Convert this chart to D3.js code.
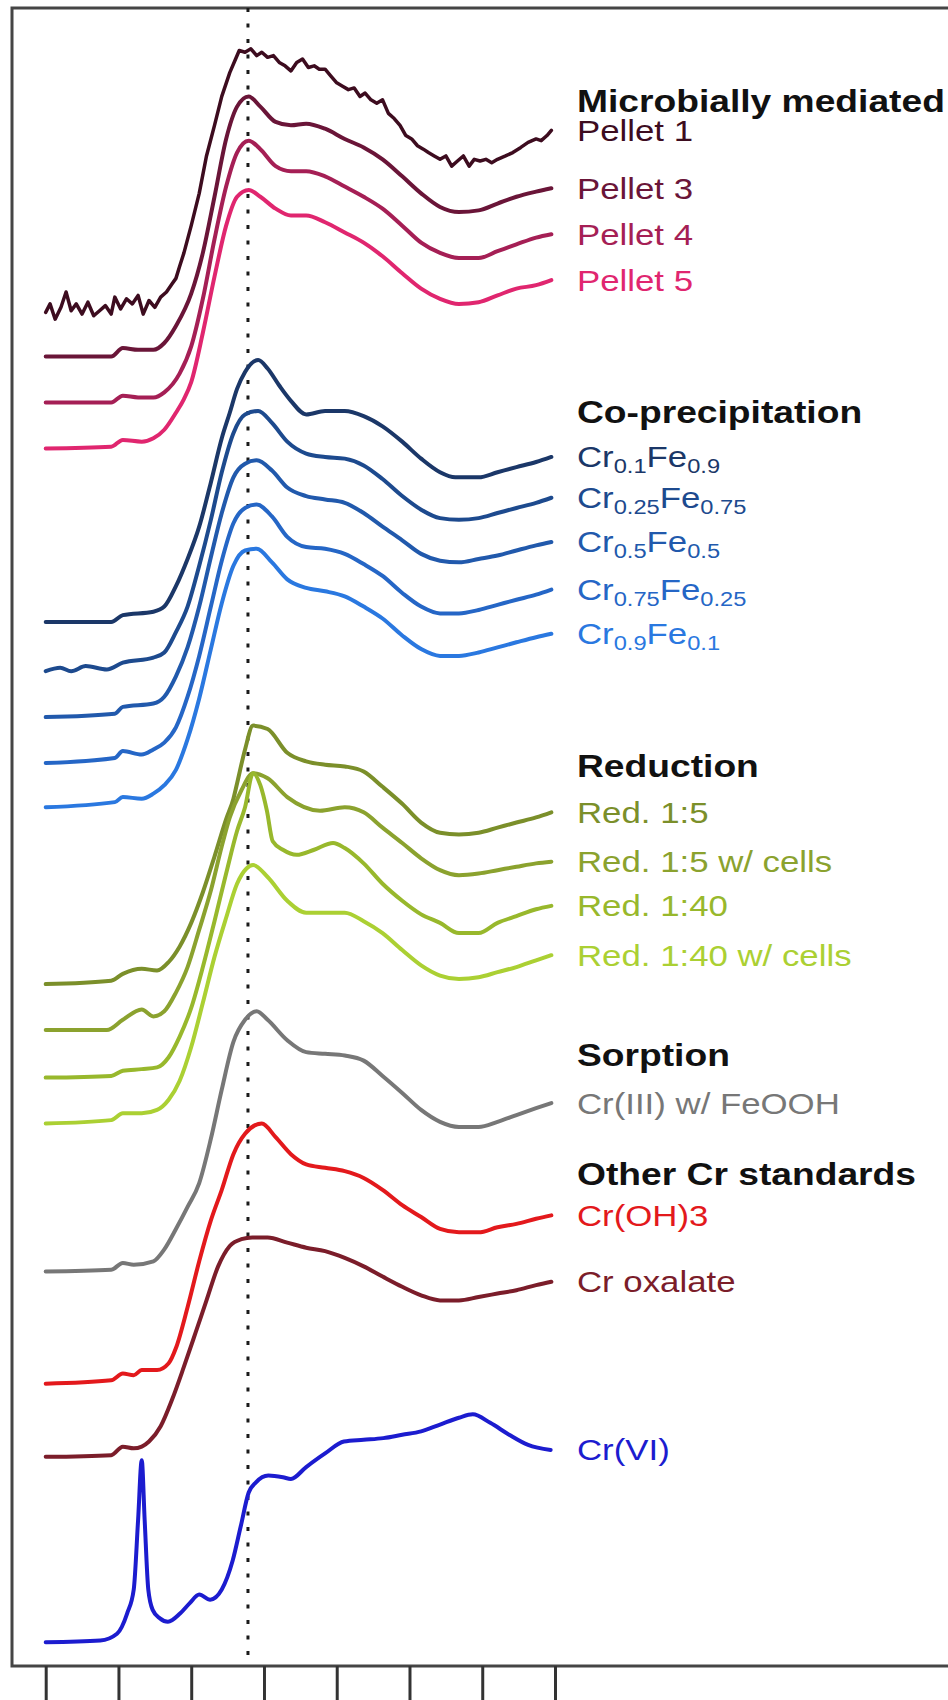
<!DOCTYPE html>
<html>
<head>
<meta charset="utf-8">
<script src="https://cdn.jsdelivr.net/npm/d3@7"></script>
<style>
  body { margin: 0; background: #fff; }
  svg { display: block; font-family: "Liberation Sans", Arial, sans-serif; }
</style>
</head>
<body>
<div id="chart"></div>
<script>
// Cr K-edge XANES, [energy eV, normalised absorbance]
const pellet1 = [[5980,0.00],[5980.6,0.05],[5981.3,-0.04],[5982.1,0.03],[5982.8,0.12],[5983.5,0.01],[5984.2,0.05],[5985,-0.01],[5985.8,0.06],[5986.6,-0.02],[5987.4,0.01],[5988.2,0.04],[5989,-0.01],[5989.5,0.09],[5990.3,0.02],[5991.1,0.08],[5991.9,0.05],[5992.7,0.10],[5993.4,-0.01],[5994.2,0.07],[5995,0.03],[5995.8,0.09],[5996.6,0.12],[5997.4,0.17],[5997.9,0.20],[5998.4,0.27],[5999,0.35],[6000,0.51],[6001.1,0.70],[6002.1,0.92],[6003.2,1.10],[6004.2,1.27],[6005.3,1.41],[6006.1,1.49],[6006.6,1.54],[6007.4,1.53],[6008.2,1.55],[6009,1.51],[6009.7,1.53],[6010.5,1.50],[6011.3,1.51],[6012.1,1.47],[6012.9,1.45],[6013.7,1.42],[6014.5,1.47],[6015.3,1.49],[6016.1,1.44],[6016.9,1.45],[6017.6,1.43],[6018.4,1.43],[6019.2,1.39],[6020,1.35],[6020.8,1.33],[6021.6,1.31],[6022.4,1.32],[6023.2,1.27],[6023.9,1.29],[6024.7,1.25],[6025.5,1.23],[6026.3,1.25],[6027.1,1.17],[6027.9,1.14],[6028.7,1.10],[6029.5,1.04],[6030.3,1.02],[6031.1,0.98],[6031.9,0.96],[6032.6,0.94],[6033.4,0.92],[6034.2,0.90],[6035,0.92],[6035.8,0.86],[6036.6,0.89],[6037.4,0.92],[6038.2,0.86],[6038.9,0.90],[6039.7,0.89],[6040.5,0.90],[6041.3,0.88],[6042.1,0.90],[6043.2,0.92],[6044.2,0.94],[6045.3,0.97],[6046.3,1.00],[6047.4,1.02],[6048.1,1.01],[6048.9,1.04],[6049.5,1.07]];
const pellet3 = [[5980,0],[5989,0],[5990.6,0.05],[5992.7,0.04],[5994.8,0.04],[5996.3,0.08],[5997.9,0.18],[6000,0.37],[6001.6,0.61],[6003.2,0.94],[6004.8,1.28],[6006.3,1.47],[6007.9,1.53],[6009.5,1.47],[6011.6,1.38],[6013.7,1.36],[6015.8,1.37],[6018.4,1.34],[6021.1,1.28],[6023.7,1.23],[6026.3,1.16],[6029,1.06],[6031.6,0.96],[6034.2,0.88],[6036.8,0.85],[6039.5,0.86],[6042.1,0.90],[6044.7,0.94],[6047.4,0.97],[6049.5,0.99]];
const pellet4 = [[5980,0],[5989,0],[5990.6,0.04],[5992.7,0.03],[5994.8,0.03],[5996.3,0.06],[5998.4,0.17],[6000,0.33],[6001.6,0.61],[6003.2,0.96],[6004.8,1.27],[6006.3,1.47],[6007.9,1.54],[6009.5,1.49],[6011.6,1.39],[6013.7,1.36],[6015.8,1.36],[6018.4,1.33],[6021.1,1.27],[6023.7,1.21],[6026.3,1.14],[6029,1.04],[6031.6,0.94],[6034.2,0.88],[6036.8,0.85],[6039.5,0.85],[6042.1,0.89],[6044.7,0.93],[6047.4,0.97],[6049.5,0.99]];
const pellet5 = [[5980,0],[5989,0.01],[5990.6,0.05],[5993.2,0.04],[5994.8,0.06],[5996.3,0.11],[5997.9,0.21],[5999,0.29],[6000,0.39],[6001.6,0.68],[6003.2,1.01],[6004.8,1.31],[6006.3,1.48],[6007.9,1.52],[6009.5,1.48],[6011.6,1.41],[6013.7,1.37],[6015.8,1.37],[6018.4,1.33],[6021.1,1.27],[6023.7,1.21],[6026.3,1.13],[6029,1.03],[6031.6,0.94],[6034.2,0.88],[6036.8,0.85],[6039.5,0.86],[6042.1,0.90],[6044.7,0.94],[6047.4,0.96],[6049.5,0.99]];

const cr01 = [[5980,0],[5989,0],[5990.6,0.04],[5994.8,0.06],[5996.3,0.09],[5997.9,0.21],[5999.5,0.37],[6001.1,0.56],[6002.7,0.82],[6004.2,1.08],[6005.3,1.23],[6006.3,1.37],[6007.4,1.47],[6009.2,1.54],[6010.5,1.49],[6012.1,1.39],[6013.7,1.30],[6015.8,1.22],[6018.4,1.24],[6021.1,1.24],[6023.7,1.21],[6026.3,1.15],[6029,1.06],[6031.6,0.96],[6034.2,0.88],[6036.3,0.85],[6039.5,0.85],[6042.1,0.88],[6044.7,0.91],[6047.4,0.94],[6049.5,0.97]];
const cr025 = [[5980,0],[5982,0.02],[5983.5,0.00],[5985.5,0.03],[5988.4,0.01],[5990.6,0.05],[5994.8,0.08],[5996.3,0.11],[5997.9,0.23],[5999.5,0.38],[6001.1,0.62],[6002.7,0.89],[6004.2,1.17],[6005.8,1.40],[6007.4,1.51],[6009.2,1.53],[6011.1,1.46],[6013.2,1.35],[6015.8,1.28],[6018.4,1.26],[6021.1,1.25],[6023.7,1.21],[6026.3,1.13],[6029,1.03],[6031.6,0.95],[6034.2,0.90],[6036.8,0.89],[6039.5,0.90],[6042.1,0.93],[6044.7,0.96],[6047.4,0.99],[6049.5,1.02]];
const cr05 = [[5980,0],[5989.5,0.02],[5990.6,0.06],[5994.8,0.08],[5996.3,0.12],[5997.9,0.24],[5999.5,0.41],[6001.1,0.65],[6002.7,0.94],[6004.2,1.20],[6005.8,1.41],[6007.4,1.49],[6009,1.51],[6011.1,1.45],[6013.2,1.35],[6015.8,1.30],[6018.4,1.28],[6021.1,1.26],[6023.7,1.20],[6026.3,1.12],[6029,1.04],[6031.6,0.96],[6034.2,0.92],[6036.8,0.91],[6039.5,0.93],[6042.1,0.95],[6044.7,0.98],[6047.4,1.01],[6049.5,1.03]];
const cr075 = [[5980,0],[5989.5,0.03],[5990.6,0.07],[5993.2,0.05],[5994.8,0.08],[5996.3,0.12],[5997.9,0.21],[5999.5,0.39],[6001.1,0.63],[6002.7,0.92],[6004.2,1.19],[6005.8,1.41],[6007.4,1.50],[6009,1.52],[6011.1,1.45],[6013.2,1.33],[6015.8,1.27],[6018.4,1.26],[6021.1,1.23],[6023.7,1.17],[6026.3,1.10],[6029,1.00],[6031.6,0.92],[6034.2,0.88],[6036.8,0.88],[6039.5,0.90],[6042.1,0.93],[6044.7,0.96],[6047.4,0.99],[6049.5,1.02]];
const cr09 = [[5980,0],[5989.5,0.03],[5990.6,0.06],[5993.2,0.05],[5994.8,0.08],[5996.3,0.13],[5997.9,0.22],[5999.5,0.40],[6001.1,0.64],[6002.7,0.93],[6004.2,1.20],[6005.8,1.42],[6007.4,1.51],[6009,1.52],[6011.1,1.44],[6013.2,1.34],[6015.8,1.29],[6018.4,1.27],[6021.1,1.24],[6023.7,1.18],[6026.3,1.11],[6029,1.01],[6031.6,0.93],[6034.2,0.89],[6036.8,0.89],[6039.5,0.91],[6042.1,0.94],[6044.7,0.97],[6047.4,1.00],[6049.5,1.02]];

const red15 = [[5980,0],[5989,0.02],[5990.6,0.06],[5993.2,0.09],[5995.3,0.08],[5996.9,0.13],[5998.4,0.22],[6000,0.36],[6001.6,0.54],[6003.2,0.75],[6004.8,0.97],[6005.8,1.09],[6006.3,1.18],[6007.4,1.38],[6008.5,1.52],[6010.5,1.50],[6013.2,1.36],[6015.8,1.31],[6018.4,1.29],[6021.1,1.28],[6023.7,1.25],[6026.3,1.16],[6029,1.06],[6031.6,0.95],[6034.2,0.89],[6036.8,0.88],[6039.5,0.89],[6042.1,0.92],[6044.7,0.95],[6047.4,0.98],[6049.5,1.01]];
const red15cells = [[5980,0],[5988.4,0],[5990.6,0.06],[5993.2,0.12],[5994.8,0.08],[5996.3,0.11],[5997.9,0.22],[5999.5,0.37],[6001.1,0.59],[6002.7,0.82],[6004.2,1.08],[6005.3,1.25],[6006.9,1.41],[6008.5,1.51],[6010.5,1.48],[6013.2,1.37],[6017.7,1.29],[6021.1,1.31],[6023.7,1.28],[6026.3,1.19],[6029,1.10],[6031.6,1.01],[6034.2,0.94],[6036.8,0.91],[6039.5,0.92],[6042.1,0.94],[6044.7,0.96],[6047.4,0.98],[6049.5,0.99]];
const red140 = [[5980,0],[5989,0.01],[5990.6,0.04],[5993.2,0.05],[5995.3,0.06],[5996.9,0.12],[5998.4,0.24],[6000,0.41],[6001.6,0.65],[6003.2,0.92],[6004.8,1.20],[6006.3,1.45],[6007.4,1.59],[6008.5,1.79],[6009.5,1.72],[6010.4,1.57],[6011.2,1.39],[6012.6,1.34],[6014.5,1.31],[6016.9,1.34],[6019.5,1.38],[6021.1,1.35],[6023.7,1.26],[6026.3,1.14],[6029,1.04],[6031.6,0.96],[6034.2,0.91],[6036.8,0.85],[6039.5,0.85],[6042.1,0.91],[6044.7,0.95],[6047.4,0.99],[6049.5,1.01]];
const red140cells = [[5980,0],[5989,0.02],[5990.6,0.06],[5993.2,0.06],[5995.3,0.08],[5996.9,0.14],[5998.4,0.25],[6000,0.45],[6001.6,0.71],[6003.2,0.98],[6004.8,1.21],[6006.3,1.41],[6007.6,1.50],[6008.5,1.52],[6010.5,1.45],[6013.2,1.31],[6015.8,1.24],[6018.4,1.24],[6021.1,1.24],[6023.7,1.19],[6026.3,1.12],[6029,1.02],[6031.6,0.93],[6034.2,0.87],[6036.8,0.85],[6039.5,0.86],[6042.1,0.89],[6044.7,0.92],[6047.4,0.96],[6049.5,0.99]];

const sorbed = [[5980,0],[5989,0.01],[5990.6,0.05],[5992.1,0.04],[5994.8,0.06],[5996.3,0.13],[5997.9,0.25],[5999.5,0.38],[6001.1,0.52],[6002.7,0.78],[6004.2,1.07],[6005.8,1.35],[6007.4,1.48],[6009,1.53],[6010.5,1.48],[6013.2,1.36],[6015.8,1.29],[6018.4,1.28],[6021.1,1.27],[6023.7,1.24],[6026.3,1.15],[6029,1.05],[6031.6,0.95],[6034.2,0.88],[6036.8,0.85],[6039.5,0.85],[6042.1,0.88],[6044.7,0.92],[6047.4,0.96],[6049.5,0.99]];
const crOH3 = [[5980,0],[5989,0.02],[5990.6,0.06],[5992.1,0.05],[5993.2,0.08],[5995.3,0.08],[5996.9,0.12],[5997.9,0.21],[5999.5,0.45],[6001.1,0.72],[6002.7,0.96],[6004.2,1.14],[6005.8,1.35],[6007.4,1.47],[6009.7,1.53],[6011.6,1.45],[6013.7,1.35],[6015.8,1.29],[6018.4,1.27],[6021.1,1.25],[6023.7,1.21],[6026.3,1.14],[6029,1.05],[6031.6,0.98],[6034.2,0.91],[6036.8,0.89],[6039.5,0.89],[6042.1,0.92],[6044.7,0.94],[6047.4,0.97],[6049.5,0.99]];
const crOxalate = [[5980,0],[5989,0.01],[5990.6,0.06],[5992.1,0.05],[5993.2,0.06],[5994.2,0.09],[5995.8,0.18],[5997.4,0.34],[5999,0.53],[6000.6,0.73],[6002.1,0.92],[6003.7,1.12],[6005.3,1.24],[6006.9,1.28],[6008.4,1.29],[6010.5,1.29],[6013.2,1.26],[6015.8,1.23],[6018.4,1.21],[6021.1,1.17],[6023.7,1.12],[6026.3,1.06],[6029,1.00],[6031.6,0.95],[6034.2,0.92],[6036.8,0.92],[6039.5,0.94],[6042.1,0.96],[6044.7,0.98],[6047.4,1.01],[6049.5,1.03]];
const crVI = [[5980,0],[5987.5,0.01],[5989.8,0.05],[5991.2,0.17],[5992.1,0.31],[5992.7,0.72],[5993.2,1.07],[5993.6,0.72],[5994.1,0.31],[5994.7,0.19],[5995.7,0.14],[5996.8,0.12],[5998.5,0.17],[5999.8,0.23],[6001.1,0.28],[6002.6,0.25],[6004.2,0.31],[6005.7,0.48],[6006.8,0.68],[6007.9,0.88],[6008.9,0.94],[6010.6,0.98],[6012.6,0.97],[6013.7,0.96],[6015.8,1.03],[6018.4,1.11],[6021,1.18],[6023.7,1.19],[6026.4,1.20],[6029,1.22],[6031.6,1.24],[6034.2,1.28],[6036.8,1.32],[6038.7,1.34],[6041.1,1.29],[6043.7,1.22],[6046.3,1.16],[6049.4,1.13]];

const spectra = [pellet1, pellet3, pellet4, pellet5, cr01, cr025, cr05, cr075, cr09,
  red15, red15cells, red140, red140cells, sorbed, crOH3, crOxalate, crVI];
const labels = ["Pellet 1", "Pellet 3", "Pellet 4", "Pellet 5",
  "Cr_{0.1}Fe_{0.9}", "Cr_{0.25}Fe_{0.75}", "Cr_{0.5}Fe_{0.5}", "Cr_{0.75}Fe_{0.25}", "Cr_{0.9}Fe_{0.1}",
  "Red. 1:5", "Red. 1:5 w/ cells", "Red. 1:40", "Red. 1:40 w/ cells",
  "Cr(III) w/ FeOOH", "Cr(OH)3", "Cr oxalate", "Cr(VI)"];
// vertical stacking offsets
const offsets = [7.96, 7.70, 7.43, 7.16, 6.14, 5.85, 5.58, 5.31, 5.05, 4.01, 3.74, 3.46, 3.19, 2.32, 1.66, 1.23, 0.14];
const colors = ["#3d0c1f", "#6a1538", "#a51f55", "#e0266f",
  "#1b3768", "#1d4a8e", "#2159ac", "#2566c6", "#2a78e0",
  "#7b8f2a", "#8ba22e", "#98b82c", "#abd033",
  "#777777", "#e3191c", "#7b1d2a", "#1c1ccf"];
const groupTitles = ["Microbially mediated", "Co-precipitation", "Reduction", "Sorption", "Other Cr standards"];
const groupFirst = [0, 4, 9, 13, 14];
const energyTicks = [5980, 5990, 6000, 6010, 6020, 6030, 6040, 6050];
const edgeEnergy = 6007.8;

const width = 948, height = 1700;
const frame = { left: 12, top: 8, bottom: 1666 };

const svg = d3.select("#chart").append("svg")
  .attr("width", width)
  .attr("height", height);

const x = d3.scaleLinear().domain([5980, 6050]).range([45.7, 555]);
const y = d3.scaleLinear().domain([0, 9.75]).range([frame.bottom, frame.top]);

// frame (right side runs off the picture)
svg.append("rect")
  .attr("x", frame.left).attr("y", frame.top)
  .attr("width", width + 20).attr("height", frame.bottom - frame.top)
  .attr("fill", "none").attr("stroke", "#454545").attr("stroke-width", 3);

const axis = svg.append("g")
  .attr("transform", `translate(0,${frame.bottom})`)
  .call(d3.axisBottom(x).tickValues(energyTicks).tickFormat("").tickSize(36).tickSizeOuter(0));
axis.select(".domain").remove();
axis.selectAll(".tick line").attr("stroke", "#333").attr("stroke-width", 3);

svg.append("line")
  .attr("x1", x(edgeEnergy)).attr("x2", x(edgeEnergy))
  .attr("y1", frame.top).attr("y2", frame.bottom)
  .attr("stroke", "#1a1a1a").attr("stroke-width", 3)
  .attr("stroke-dasharray", "4,11.5");

spectra.forEach((data, i) => {
  const line = d3.line()
    .x(d => x(d[0]))
    .y(d => y(d[1] + offsets[i]))
    .curve(i === 0 ? d3.curveLinear : d3.curveMonotoneX);
  svg.append("path")
    .datum(data)
    .attr("d", line)
    .attr("fill", "none")
    .attr("stroke", colors[i])
    .attr("stroke-width", i === 0 ? 3.5 : 4)
    .attr("stroke-linejoin", "round")
    .attr("stroke-linecap", "round");
});

// labels at the right end of each trace, text stretched horizontally like the original
const labelY = spectra.map((data, i) => y(data[data.length - 1][1] + offsets[i]));
const labelX = x(6050) + 22;
const subShift = 6;

spectra.forEach((data, i) => {
  const t = svg.append("text")
    .attr("transform", `translate(${labelX},${labelY[i]}) scale(1.2,1)`)
    .attr("dy", "0.36em")
    .attr("font-size", 29)
    .attr("fill", colors[i]);
  let lowered = false;
  labels[i].split(/(_\{[^}]*\})/).filter(s => s).forEach(part => {
    if (part.startsWith("_{")) {
      t.append("tspan").attr("font-size", "0.68em").attr("dy", subShift).text(part.slice(2, -1));
      lowered = true;
    } else {
      t.append("tspan").attr("dy", lowered ? -subShift : null).text(part);
      lowered = false;
    }
  });
});

const headGap = [30, 45, 47, 48, 42];
groupTitles.forEach((title, g) => {
  svg.append("text")
    .attr("transform", `translate(${labelX},${labelY[groupFirst[g]] - headGap[g]}) scale(1.2,1)`)
    .attr("dy", "0.36em")
    .attr("font-size", 31)
    .attr("font-weight", "bold")
    .attr("fill", "#111")
    .text(title);
});
</script>
</body>
</html>
